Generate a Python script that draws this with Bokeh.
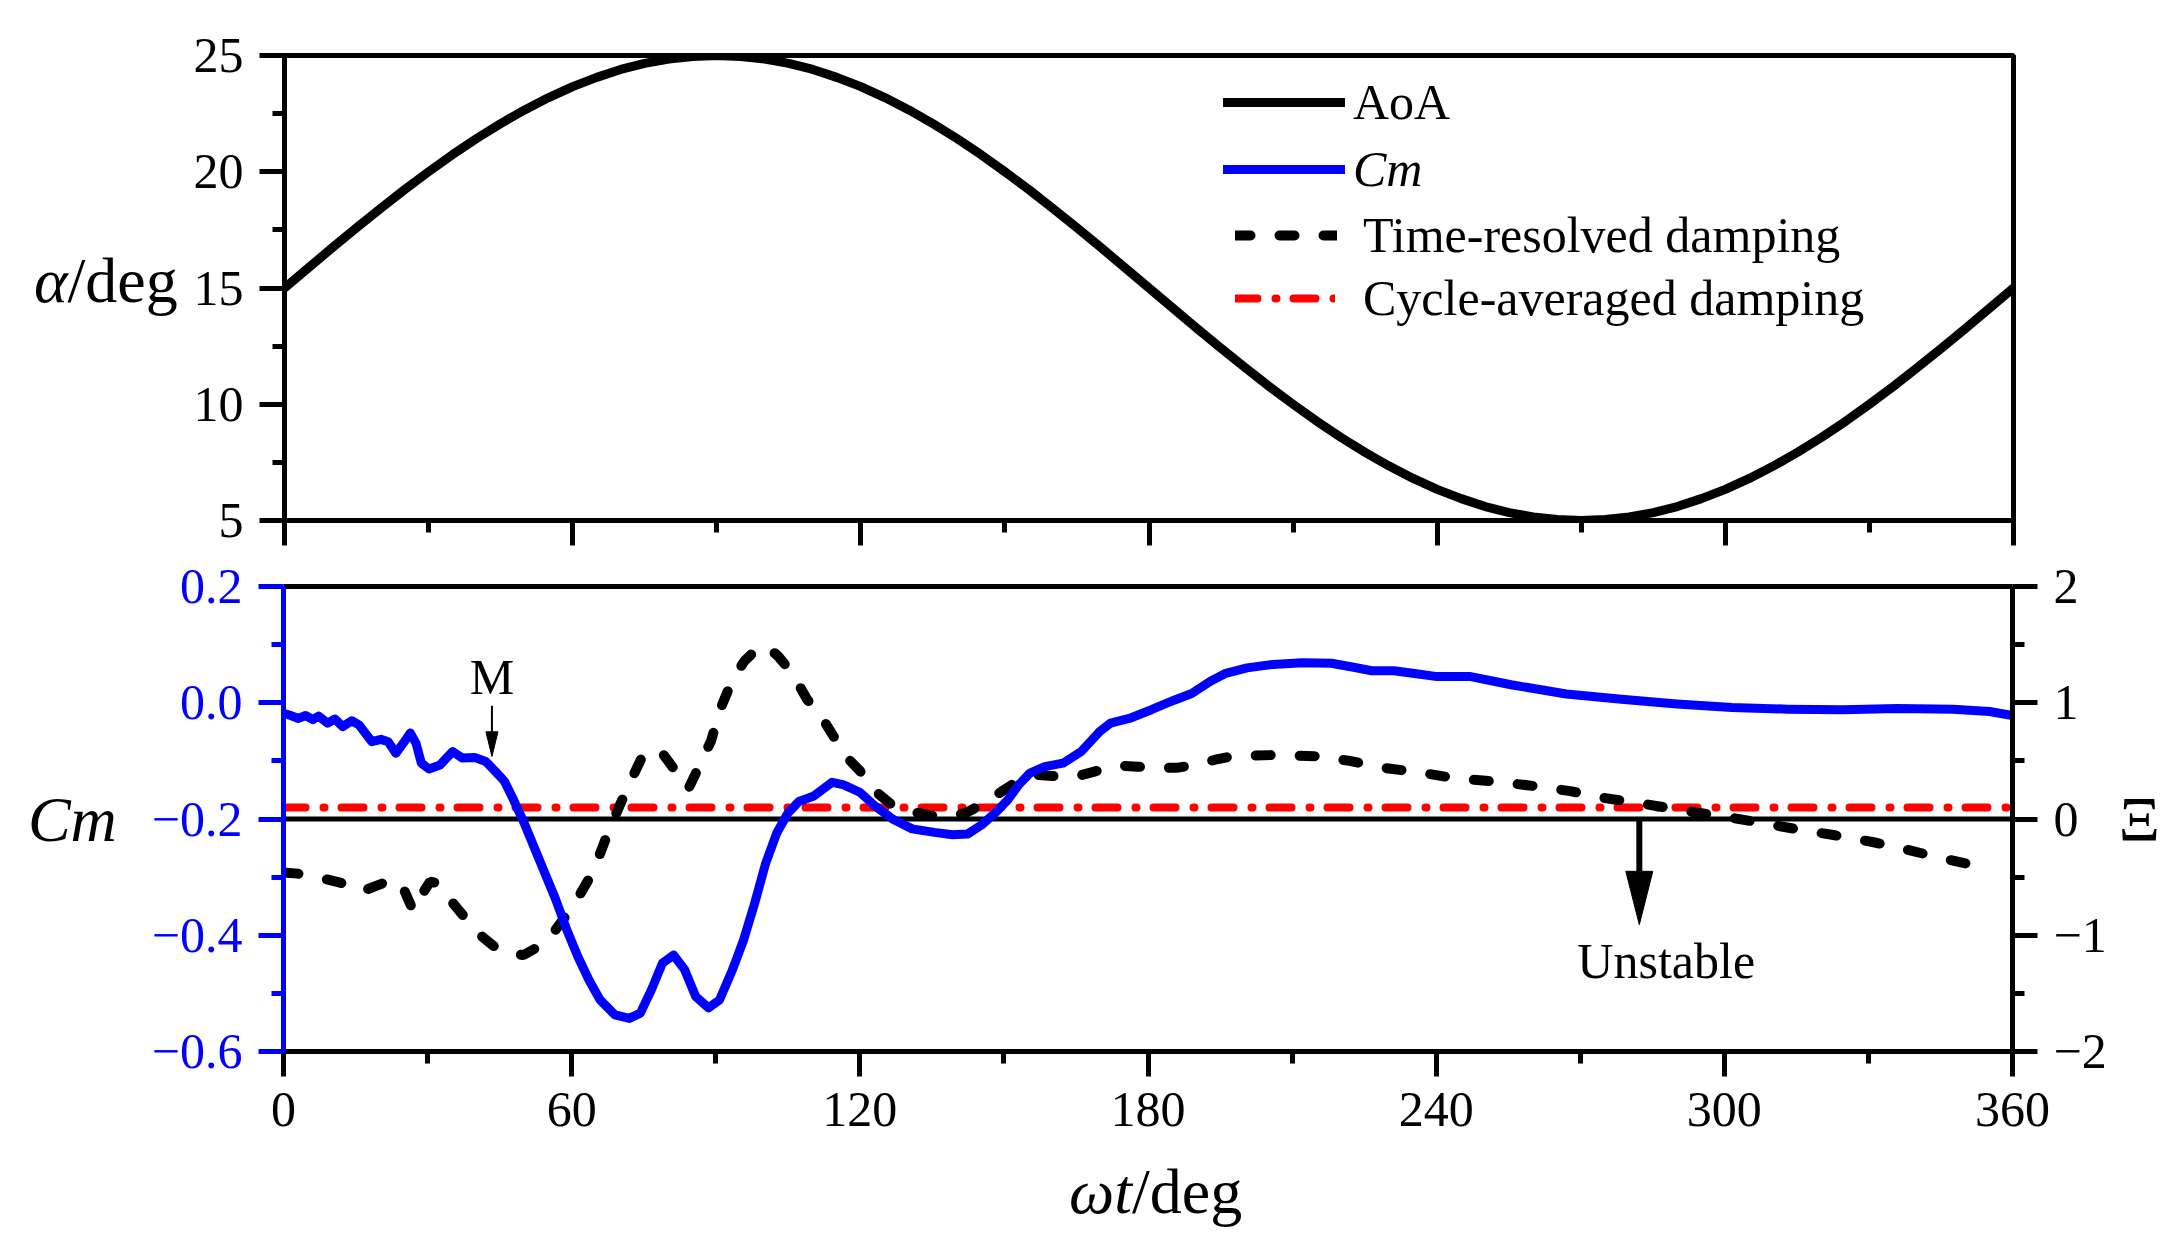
from bokeh.plotting import figure
from bokeh.layouts import column, row
from bokeh.models import (Range1d, LinearAxis, FixedTicker, CustomJSTickFormatter,
                          Span, Label, Legend, LegendItem)
from bokeh.embed import file_html
from bokeh.resources import INLINE

# ---------------- data ----------------
x_major = [0, 60, 120, 180, 240, 300, 360]
x_minor = [30, 90, 150, 210, 270, 330]
aoa_major = [5, 10, 15, 20, 25]
aoa_minor = [7.5, 12.5, 17.5, 22.5]
cm_major = [0.2, 0.0, -0.2, -0.4, -0.6]
cm_minor = [0.1, -0.1, -0.3, -0.5]
xi_major = [2, 1, 0, -1, -2]
xi_minor = [1.5, 0.5, -0.5, -1.5]

aoa_deg = [0, 5, 10, 15, 20, 25, 30, 35, 40, 45, 50, 55, 60, 65, 70, 75, 80, 85, 90, 95, 100,
           105, 110, 115, 120, 125, 130, 135, 140, 145, 150, 155, 160, 165, 170, 175, 180, 185,
           190, 195, 200, 205, 210, 215, 220, 225, 230, 235, 240, 245, 250, 255, 260, 265, 270,
           275, 280, 285, 290, 295, 300, 305, 310, 315, 320, 325, 330, 335, 340, 345, 350, 355,
           360]
aoa_val = [15.00, 15.87, 16.74, 17.59, 18.42, 19.23, 20.00, 20.74, 21.43, 22.07, 22.66, 23.19,
           23.66, 24.06, 24.40, 24.66, 24.85, 24.96, 25.00, 24.96, 24.85, 24.66, 24.40, 24.06,
           23.66, 23.19, 22.66, 22.07, 21.43, 20.74, 20.00, 19.23, 18.42, 17.59, 16.74, 15.87,
           15.00, 14.13, 13.26, 12.41, 11.58, 10.77, 10.00, 9.26, 8.57, 7.93, 7.34, 6.81, 6.34,
           5.94, 5.60, 5.34, 5.15, 5.04, 5.00, 5.04, 5.15, 5.34, 5.60, 5.94, 6.34, 6.81, 7.34,
           7.93, 8.57, 9.26, 10.00, 10.77, 11.58, 12.41, 13.26, 14.13, 15.00]

cm_deg = [0, 1.5, 3.1, 4.6, 6.1, 7.3, 9.2, 10.7, 12.3, 14.2, 15.7, 18.4, 20.3, 21.8, 23.4, 24.9,
          26.4, 27.6, 28.7, 30.3, 32.6, 35.2, 37.2, 39.8, 42.1, 44.1, 46.0, 47.9, 49.8, 52.1,
          54.4, 56.7, 59.0, 61.3, 63.6, 65.9, 69.0, 72.0, 74.3, 76.6, 78.9, 81.2, 83.5, 85.8,
          88.5, 90.8, 93.5, 95.8, 98.1, 100.4, 102.7, 105.0, 107.3, 110.3, 112.6, 114.2, 116.5,
          120.0, 123.2, 127.0, 130.9, 135.5, 139.3, 142.4, 145.4, 148.5, 150.8, 153.1, 155.4,
          158.5, 162.3, 166.1, 170.0, 172.2, 176.1, 180.7, 185.3, 189.1, 193.0, 196.0, 200.6,
          206.0, 212.1, 218.2, 222.8, 226.6, 231.2, 235.9, 240.2, 247.2, 255.6, 267.1, 278.6,
          290.1, 301.6, 313.1, 324.6, 336.1, 347.6, 355.2, 360.0]
cm_val = [-0.018, -0.022, -0.027, -0.022, -0.029, -0.023, -0.035, -0.028, -0.041, -0.031, -0.038,
          -0.067, -0.063, -0.067, -0.087, -0.070, -0.052, -0.070, -0.104, -0.114, -0.107, -0.084,
          -0.095, -0.094, -0.101, -0.118, -0.135, -0.167, -0.201, -0.247, -0.293, -0.339, -0.391,
          -0.437, -0.477, -0.511, -0.537, -0.543, -0.534, -0.494, -0.448, -0.434, -0.459, -0.505,
          -0.525, -0.511, -0.459, -0.408, -0.345, -0.276, -0.224, -0.190, -0.170, -0.161, -0.147,
          -0.137, -0.141, -0.154, -0.178, -0.201, -0.217, -0.223, -0.227, -0.226, -0.210, -0.187,
          -0.167, -0.141, -0.121, -0.110, -0.104, -0.084, -0.049, -0.035, -0.027, -0.012, 0.004,
          0.016, 0.037, 0.050, 0.060, 0.066, 0.069, 0.068, 0.061, 0.055, 0.055, 0.050, 0.045,
          0.045, 0.031, 0.015, 0.006, -0.002, -0.008, -0.011, -0.012, -0.010, -0.011, -0.015,
          -0.022]

xi_deg = [0, 3, 6, 9, 12, 14.5, 16.5, 19, 21.5, 23, 25, 27, 28.5, 30.5, 32, 34, 36, 38, 41, 44,
          47, 50, 53, 56, 59, 62, 64.5, 67, 69.5, 72, 74.5, 76.5, 79, 81.5, 84.3, 86.5, 89, 91,
          93.5, 96, 98.5, 100.5, 103, 106, 109, 112, 115, 118, 120.1, 123.2, 127, 131, 134.7,
          138, 142, 146, 149.3, 153, 156.5, 160, 164.6, 169, 173.8, 178, 182.6, 186, 190.3, 194,
          197.5, 206, 214.8, 222, 229, 236.6, 244.1, 253, 261, 267.9, 275.2, 283.2, 292, 300.1,
          307.3, 315.4, 323, 331.1, 337.6, 345.6, 353.3, 356]
xi_val = [-0.46, -0.47, -0.50, -0.52, -0.55, -0.61, -0.62, -0.58, -0.54, -0.52, -0.60, -0.79,
          -0.67, -0.54, -0.55, -0.66, -0.76, -0.86, -1.00, -1.10, -1.16, -1.17, -1.10, -0.99,
          -0.82, -0.63, -0.45, -0.18, 0.07, 0.30, 0.52, 0.60, 0.56, 0.42, 0.26, 0.45, 0.67, 0.95,
          1.20, 1.36, 1.46, 1.49, 1.40, 1.25, 1.03, 0.88, 0.68, 0.50, 0.41, 0.24, 0.11, 0.06,
          0.03, 0.02, 0.05, 0.14, 0.23, 0.33, 0.38, 0.37, 0.36, 0.41, 0.46, 0.45, 0.44, 0.44,
          0.47, 0.51, 0.54, 0.55, 0.54, 0.50, 0.44, 0.40, 0.35, 0.32, 0.28, 0.24, 0.18, 0.13,
          0.07, 0.02, -0.03, -0.09, -0.14, -0.20, -0.26, -0.34, -0.41, -0.43]

xi_cycle_avg = 0.10
xi_neutral = 0.0
cycle_deg = [0, 360]

# annotation anchors (data units)
m_arrow = dict(x=43.4, y_start=-0.005, y_tip=-0.0925, y_head=-0.050, head_w_px=12)
m_text = dict(x=43.4, y=0.044, text="M")
unstable_arrow = dict(x=282.3, y_start=0.0, y_tip=-0.909, y_head=-0.45, head_w_px=27)
unstable_text = dict(x=287.9, y=-1.221, text="Unstable")

# ---------------- styling / geometry ----------------
FONT = "Liberation Serif"
BLUE = "#0000FF"
RED = "#FF0000"
FW, FH = 1729, 465
TICK_FS = "50px"
TITLE_FS = "64px"
DEG_PER_PX = 360.0 / FW

TR_DASH = "15 29"
CA_DASH = "22 18 1 17"

FRAME_L, FRAME_R = 283, 2012
FULL_W = 2172
TL_W = 190                         # strip holding the upper y title
P1_TOP, P1_BOT = 55, 30
P2_TOP, P2_BOT = 36, 98
P1_H = P1_TOP + FH + P1_BOT
P2_H = P2_TOP + FH + P2_BOT
XT_H = 106                         # strip holding the x title


def style_axis(ax, color="black"):
    ax.axis_line_color = color
    ax.axis_line_width = 5
    ax.major_tick_line_color = color
    ax.major_tick_line_width = 5
    ax.minor_tick_line_color = color
    ax.minor_tick_line_width = 5
    ax.major_tick_in = 0
    ax.major_tick_out = 25
    ax.minor_tick_in = 0
    ax.minor_tick_out = 12
    ax.major_label_text_font = FONT
    ax.major_label_text_font_size = TICK_FS
    ax.major_label_text_color = color
    ax.major_label_standoff = 16


def minus_fmt(digits):
    return CustomJSTickFormatter(
        code="return tick.toFixed(%d).replace('-', '\\u2212');" % digits)


def text_strip(w, h):
    f = figure(width=w, height=h, x_range=Range1d(0, w), y_range=Range1d(0, h),
               x_axis_type=None, y_axis_type=None, output_backend="svg",
               toolbar_location=None, min_border=0, title=None)
    f.outline_line_color = None
    f.grid.visible = False
    return f


def txt(f, x, y, text, align, italic=False, size=TITLE_FS):
    f.add_layout(Label(x=x, y=y, text=text, text_align=align, text_baseline="alphabetic",
                       text_font=FONT, text_font_size=size, text_color="black",
                       text_font_style="italic" if italic else "normal"))


# ---------------- top panel ----------------
p1 = figure(frame_width=FW, frame_height=FH, x_range=Range1d(0, 360), y_range=Range1d(5, 25),
            output_backend="svg", toolbar_location=None, title=None,
            min_border_left=FRAME_L - TL_W, min_border_right=FULL_W - FRAME_R,
            min_border_top=P1_TOP, min_border_bottom=P1_BOT)
p1.grid.visible = False
p1.outline_line_color = "black"
p1.outline_line_width = 5

xa1 = p1.xaxis[0]
style_axis(xa1)
xa1.ticker = FixedTicker(ticks=x_major, minor_ticks=x_minor)
xa1.formatter = CustomJSTickFormatter(code="return '';")
xa1.major_label_text_font_size = "0px"
xa1.major_label_standoff = 0

ya1 = p1.yaxis[0]
style_axis(ya1)
ya1.ticker = FixedTicker(ticks=aoa_major, minor_ticks=aoa_minor)

r_aoa = p1.line(aoa_deg, aoa_val, line_color="black", line_width=9, line_cap="round",
                line_join="round")
# legend samples: the lower-panel series, which lie outside this panel's range
r_cm_leg = p1.line(cm_deg, cm_val, line_color=BLUE, line_width=9, line_cap="round")
r_tr_leg = p1.line(xi_deg, xi_val, line_color="black", line_width=10, line_dash=TR_DASH,
                   line_cap="round")
r_ca_leg = p1.line(cycle_deg, [xi_cycle_avg] * len(cycle_deg), line_color=RED, line_width=8,
                   line_dash=CA_DASH, line_cap="round")


def add_legend(p, renderer, label, x, y, gw, standoff, italic=False):
    lg = Legend(items=[LegendItem(label=label, renderers=[renderer])], location=(x, y),
                border_line_color=None, background_fill_alpha=0, padding=0, margin=0,
                glyph_width=gw, glyph_height=40, label_height=40, label_standoff=standoff,
                label_text_font=FONT, label_text_font_size="50px", label_text_color="black",
                label_text_font_style="italic" if italic else "normal", spacing=0)
    p.add_layout(lg, "center")


add_legend(p1, r_aoa, "AoA", 939, 389, 122, 8)
add_legend(p1, r_cm_leg, "Cm", 939, 322, 122, 8, italic=True)
add_legend(p1, r_tr_leg, "Time-resolved damping", 951, 256, 102, 26)
add_legend(p1, r_ca_leg, "Cycle-averaged damping", 951, 193, 100, 28)

tl = text_strip(TL_W, P1_H)
txt(tl, 67, P1_H - 266, "α", "right", italic=True)
txt(tl, 67, P1_H - 266, "/deg", "left")

# ---------------- bottom panel ----------------
p2 = figure(frame_width=FW, frame_height=FH, x_range=Range1d(0, 360), y_range=Range1d(-0.6, 0.2),
            output_backend="svg", toolbar_location=None, title=None,
            min_border_left=FRAME_L, min_border_right=FULL_W - FRAME_R,
            min_border_top=P2_TOP, min_border_bottom=P2_BOT)
p2.grid.visible = False
p2.outline_line_color = None
p2.extra_y_ranges = {"xi": Range1d(-2, 2)}

xa2 = p2.xaxis[0]
style_axis(xa2)
xa2.ticker = FixedTicker(ticks=x_major, minor_ticks=x_minor)

ya2 = p2.yaxis[0]
style_axis(ya2, BLUE)
ya2.ticker = FixedTicker(ticks=cm_major, minor_ticks=cm_minor)
ya2.formatter = minus_fmt(1)
ya2.axis_label = "Cm"
ya2.axis_label_orientation = "horizontal"
ya2.axis_label_text_font = FONT
ya2.axis_label_text_font_size = TITLE_FS
ya2.axis_label_text_font_style = "italic"
ya2.axis_label_text_color = "black"
ya2.axis_label_standoff = 32

rax = LinearAxis(y_range_name="xi")
style_axis(rax)
rax.ticker = FixedTicker(ticks=xi_major, minor_ticks=xi_minor)
rax.formatter = minus_fmt(0)
rax.axis_label = "Ξ"
rax.axis_label_orientation = "horizontal"
rax.axis_label_text_font = FONT
rax.axis_label_text_font_size = TITLE_FS
rax.axis_label_text_font_style = "normal"
rax.axis_label_text_color = "black"
rax.axis_label_standoff = 9
p2.add_layout(rax, "right")

tax = LinearAxis(ticker=FixedTicker(ticks=[]), axis_line_color="black", axis_line_width=5,
                 major_tick_out=0, major_tick_in=0, minor_tick_out=0, minor_tick_in=0,
                 major_label_text_font_size="0px", major_label_standoff=0)
p2.add_layout(tax, "above")

p2.add_layout(Span(location=xi_neutral, dimension="width", y_range_name="xi",
                   line_color="black", line_width=5, level="underlay"))
p2.add_layout(Span(location=xi_cycle_avg, dimension="width", y_range_name="xi",
                   line_color=RED, line_width=8, line_dash=CA_DASH, line_cap="round",
                   level="underlay"))

p2.line(xi_deg, xi_val, y_range_name="xi", line_color="black", line_width=10,
        line_dash=TR_DASH, line_cap="round")
p2.line(cm_deg, cm_val, line_color=BLUE, line_width=9, line_join="round")


def add_arrow(p, a, lw, y_range_name="default"):
    hw = a["head_w_px"] / 2.0 * DEG_PER_PX
    p.segment(x0=[a["x"]], y0=[a["y_start"]], x1=[a["x"]], y1=[a["y_head"]],
              line_color="black", line_width=lw, y_range_name=y_range_name)
    p.patch(x=[a["x"] - hw, a["x"] + hw, a["x"]], y=[a["y_head"], a["y_head"], a["y_tip"]],
            fill_color="black", line_color="black", line_width=1, y_range_name=y_range_name)


add_arrow(p2, m_arrow, 2)
add_arrow(p2, unstable_arrow, 6, "xi")

p2.add_layout(Label(x=m_text["x"], y=m_text["y"], text=m_text["text"], text_align="center",
                    text_baseline="alphabetic", text_font=FONT, text_font_size="50px",
                    text_color="black"))
p2.add_layout(Label(x=unstable_text["x"], y=unstable_text["y"], text=unstable_text["text"],
                    y_range_name="xi", text_align="center", text_baseline="alphabetic",
                    text_font=FONT, text_font_size="50px", text_color="black"))

xt = text_strip(FULL_W, XT_H)
xt_base = XT_H - (1191 - P1_H - P2_H)
txt(xt, 1066, xt_base, "ωt", "right", italic=True)
txt(xt, 1066, xt_base, "/deg", "left")

layout = column(row(tl, p1), p2, xt)
open("out.html", "w", encoding="utf-8").write(file_html(layout, INLINE))
